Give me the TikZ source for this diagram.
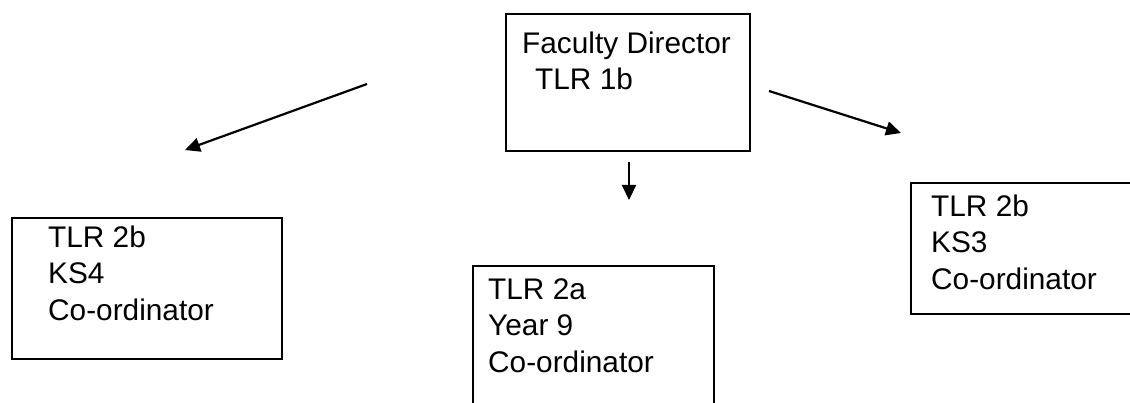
\documentclass[tikz,border=0pt]{standalone}
\usepackage{fontspec}
\setmainfont{Liberation Sans}
\usetikzlibrary{arrows.meta}
\begin{document}
\begin{tikzpicture}[x=1pt,y=-1pt,
  box/.style={draw=black,line width=1.6pt,inner sep=0pt,anchor=north west},
  txt/.style={anchor=base west,inner sep=0pt,font=\fontsize{29.8}{36}\selectfont},
  arr/.style={line width=2.2pt,-{Triangle[width=14pt,length=15pt]}}]
\useasboundingbox (0,0) rectangle (1130,403);
\clip (0,0) rectangle (1130,403);
% top box
\node[box,minimum width=244pt,minimum height=137pt] (top) at (505,13) {};
\node[txt] (t1) at (522,54) {Faculty Director};
\node[txt] (t2) at (522,90) {\hspace*{13pt}TLR 1b};
% left box
\node[box,minimum width=270pt,minimum height=141pt] (left) at (11,217) {};
\node[txt] (l1) at (48,248) {TLR 2b};
\node[txt] (l2) at (48,284) {KS4};
\node[txt] (l3) at (48,320) {Co-ordinator};
% middle box
\node[box,minimum width=241pt,minimum height=160pt] (mid) at (472,265) {};
\node[txt] (m1) at (488,300) {TLR 2a};
\node[txt] (m2) at (488,336) {Year 9};
\node[txt] (m3) at (488,373) {Co-ordinator};
% right box
\node[box,minimum width=240pt,minimum height=131pt] (right) at (910,182) {};
\node[txt] (r1) at (931,217) {TLR 2b};
\node[txt] (r2) at (931,253) {KS3};
\node[txt] (r3) at (931,290) {Co-ordinator};
% arrows
\coordinate (ls) at (367,84);
\coordinate (le) at (185,150);
\coordinate (ds) at (629,162);
\coordinate (de) at (629,200);
\coordinate (rs) at (769,91);
\coordinate (re) at (901,133);
\draw[arr] (ls) -- (le);
\draw[arr] (ds) -- (de);
\draw[arr] (rs) -- (re);
\end{tikzpicture}
\end{document}
